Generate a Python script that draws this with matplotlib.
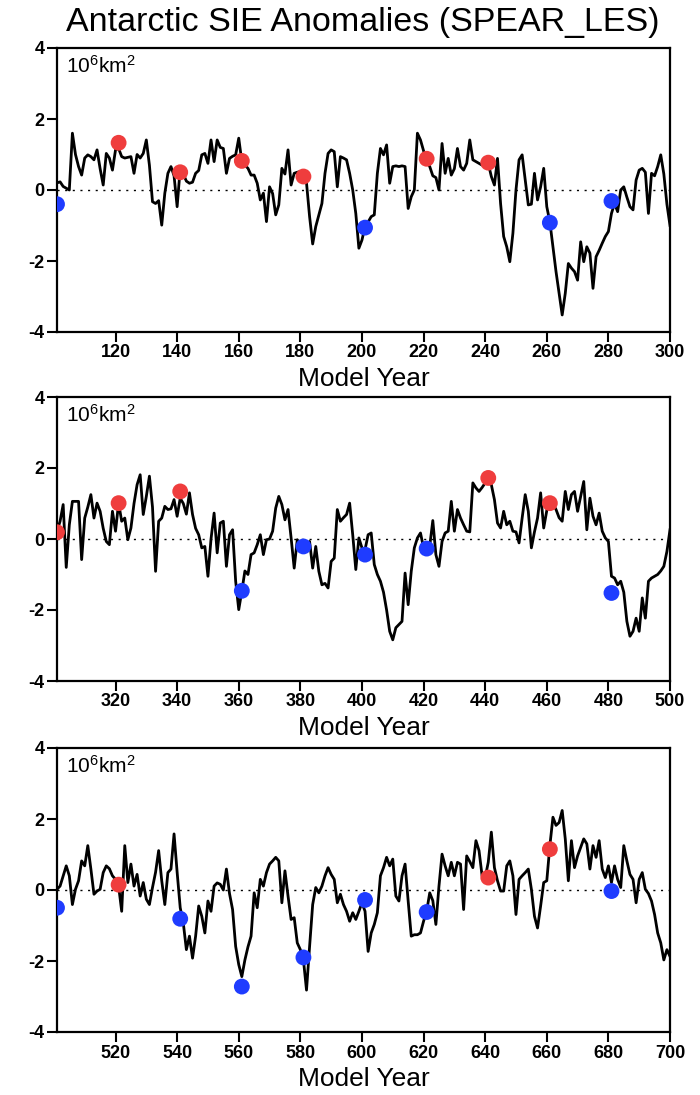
import numpy as np
import matplotlib.pyplot as plt

plt.rcParams['font.family'] = ['Liberation Sans', 'DejaVu Sans']
plt.rcParams['axes.unicode_minus'] = False
plt.rcParams['mathtext.default'] = 'regular'

# annual Antarctic SIE anomalies (10^6 km^2)
years1 = np.arange(101, 301)
sie1 = [0.2, 0.23, 0.1, 0.05, 0.0, 1.6, 1.0, 0.66, 0.42, 0.9,
        0.99, 0.94, 0.85, 1.13, 0.6, 0.14, 1.03, 0.9, 0.56, 1.13,
        1.17, 0.94, 0.9, 0.92, 0.94, 0.47, 1.0, 0.9, 1.03, 1.41,
        0.7, -0.33, -0.38, -0.3, -0.99, -0.09, 0.47, 0.66, 0.4, -0.47,
        0.61, 0.45, 0.25, 0.19, 0.22, 0.47, 0.55, 0.99, 1.03, 0.75,
        1.41, 0.8, 1.41, 1.2, 1.17, 0.47, 0.89, 0.95, 0.99, 1.46,
        0.8, 0.7, 0.61, 0.42, 0.42, 0.19, -0.28, -0.09, -0.89, 0.09,
        -0.1, -0.7, -0.42, 0.61, 0.45, 1.13, 0.14, 0.47, 0.5, 0.52,
        0.45, 0.2, -0.75, -1.52, -1.03, -0.7, -0.38, 0.47, 1.03, 1.13,
        1.08, 0.09, 0.94, 0.9, 0.85, 0.47, 0.0, -0.66, -1.64, -1.41,
        -1.03, -0.9, -0.75, -0.7, 0.47, 1.17, 0.99, 1.27, 0.19, 0.66,
        0.68, 0.66, 0.68, 0.66, -0.52, -0.19, 0.0, 1.6, 1.41, 1.1,
        0.8, 0.66, 0.4, 0.35, 0.0, 1.31, 0.47, 0.89, 0.42, 0.6,
        1.17, 0.66, 0.56, 0.75, 1.41, 0.85, 0.8, 0.75, 0.7, 0.75,
        0.75, 0.38, 0.14, 0.89, -0.38, -1.31, -1.6, -2.02, -1.22, 0.0,
        0.85, 0.99, 0.28, -0.42, -0.4, 0.47, -0.28, 0.09, 0.61, -0.47,
        -0.9, -1.6, -2.3, -2.91, -3.52, -2.91, -2.07, -2.2, -2.3, -2.54,
        -1.46, -2.02, -1.6, -1.78, -2.77, -1.88, -1.7, -1.5, -1.31, -1.17,
        -0.66, -0.38, -0.61, 0.0, 0.09, -0.2, -0.47, -0.56, 0.28, 0.56,
        0.61, 0.5, -0.66, 0.47, 0.4, 0.66, 0.99, 0.45, -0.4, -1.0]

years2 = np.arange(301, 501)
sie2 = [0.22, 0.5, 0.97, -0.8, 0.4, 1.06, 1.06, 1.06, -0.58, 0.59,
        0.9, 1.25, 0.59, 1.01, 0.78, 0.3, -0.07, -0.16, 0.78, 0.22,
        1.01, 0.5, 0.59, -0.02, 0.31, 1.0, 1.53, 1.81, 0.69, 1.2,
        1.77, 0.9, -0.91, 0.5, 0.59, 0.92, 0.83, 0.85, 1.11, 0.64,
        1.15, 1.0, 0.7, 1.3, 0.69, 0.3, 0.12, -0.25, -0.21, -1.05,
        0.0, 0.73, -0.39, 0.45, 0.5, -0.77, 0.12, 0.26, -1.19, -1.99,
        -1.47, -0.9, -1.0, -0.44, -0.39, -0.16, 0.12, -0.44, -0.02, 0.0,
        0.22, 0.87, 1.2, 0.97, 0.54, 0.83, 0.03, -0.82, -0.02, -0.16,
        -0.3, -0.35, -0.07, -0.82, -0.21, -0.91, -1.29, -1.25, -1.38, -0.63,
        -0.54, 0.83, 0.5, 0.6, 0.69, 1.01, 0.12, -0.86, 0.03, -0.25,
        -0.3, 0.12, 0.17, -0.72, -1.0, -1.19, -1.5, -2.0, -2.6, -2.84,
        -2.5, -2.41, -2.32, -0.96, -1.85, -0.91, -0.25, 0.03, 0.17, -0.25,
        -0.15, -0.2, 0.52, -0.44, -0.77, -0.07, 0.17, 0.22, 1.06, 0.22,
        0.83, 0.59, 0.4, 0.22, 0.2, 1.58, 1.44, 1.34, 1.45, 1.58,
        1.6, 1.53, 1.11, 0.45, 0.31, 0.78, 0.4, 0.5, 0.22, 0.2,
        -0.11, 0.59, 1.25, 0.78, -0.25, 0.2, 0.59, 1.3, 0.31, 0.8,
        1.15, 1.0, 0.83, 0.6, 0.5, 1.34, 0.83, 1.25, 1.34, 0.78,
        1.2, 1.62, 0.26, 1.15, 0.64, 0.4, 0.73, 0.22, 0.03, -0.07,
        -1.05, -1.1, -1.29, -1.19, -1.5, -2.32, -2.74, -2.6, -2.23, -2.6,
        -1.66, -2.23, -1.19, -1.1, -1.05, -1.0, -0.9, -0.77, -0.35, 0.26]

years3 = np.arange(501, 701)
sie3 = [0.02, 0.11, 0.4, 0.68, 0.4, -0.41, 0.02, 0.26, 0.82, 0.68,
        1.25, 0.59, -0.12, -0.03, 0.02, 0.49, 0.68, 0.6, 0.4, 0.3,
        0.11, -0.6, 1.25, 0.21, 0.73, 0.11, 0.44, -0.17, 0.21, -0.26,
        -0.41, 0.07, 0.5, 1.11, 0.26, -0.41, 0.49, 0.59, 1.58, 0.5,
        -0.5, -0.93, -1.68, -1.3, -1.92, -1.3, -0.45, -0.74, -1.21, -0.31,
        -0.6, 0.11, 0.2, 0.16, 0.0, 0.59, -0.1, -0.55, -1.59, -2.1,
        -2.44, -1.97, -1.6, -1.3, -0.08, -0.5, 0.3, 0.11, 0.49, 0.73,
        0.82, 0.92, 0.82, -0.36, 0.54, -0.17, -0.83, -0.78, -1.49, -1.68,
        -1.97, -2.82, -1.59, -0.41, 0.07, -0.08, 0.11, 0.4, 0.63, 0.44,
        0.3, -0.36, -0.12, -0.41, -0.6, -0.88, -0.64, -0.83, -0.6, -0.36,
        -0.6, -1.73, -1.21, -0.97, -0.64, 0.4, 0.63, 0.92, 0.68, 0.87,
        -0.17, -0.31, 0.4, 0.73, -0.31, -1.3, -1.26, -1.26, -1.21, -0.88,
        -0.6, -0.08, -0.3, -0.97, 0.11, 1.01, 0.68, 0.4, 0.78, 0.4,
        0.78, 0.73, -0.55, 0.96, 0.8, 0.63, 1.39, 1.11, 0.4, 0.35,
        0.78, 1.63, 0.63, 0.26, -0.03, -0.03, 0.68, 0.82, 0.4, -0.69,
        0.3, 0.4, 0.49, 0.59, 0.02, -0.74, -1.07, -0.45, 0.21, 0.26,
        1.25, 2.05, 1.82, 1.9, 2.24, 1.44, 0.26, 1.39, 0.63, 0.96,
        1.2, 1.44, 1.3, 0.59, 1.25, 0.92, 1.39, 0.59, 0.35, 0.68,
        0.21, 0.68, 0.3, 0.07, 1.25, 0.82, 0.44, 0.3, -0.36, 0.3,
        0.49, 0.02, -0.1, -0.31, -0.69, -1.21, -1.49, -1.97, -1.68, -1.87]

# 20-year start-point values (dots)
dot_years1 = np.arange(101, 300, 20)
dots1 = [-0.4, 1.33, 0.5, 0.82, 0.38, -1.06, 0.88, 0.77, -0.92, -0.31]
dot_years2 = np.arange(301, 500, 20)
dots2 = [0.19, 1.01, 1.34, -1.46, -0.21, -0.44, -0.27, 1.72, 1.01, -1.52]
dot_years3 = np.arange(501, 700, 20)
dots3 = [-0.5, 0.15, -0.81, -2.72, -1.9, -0.28, -0.62, 0.35, 1.15, -0.03]

W, H = 700, 1095
fig = plt.figure(figsize=(W / 100, H / 100), dpi=100)
fig.text(363 / W, 1 - 23 / H, 'Antarctic SIE Anomalies (SPEAR_LES)', ha='center', va='center', fontsize=24.5)

panels = [(years1, sie1, dot_years1, dots1, 48),
          (years2, sie2, dot_years2, dots2, 397),
          (years3, sie3, dot_years3, dots3, 748)]

for yrs, sie, dyrs, dvals, top in panels:
    ax = fig.add_axes([57 / W, 1 - (top + 284) / H, 613 / W, 284 / H])
    ax.plot(yrs, sie, color='black', lw=2.0, zorder=2)
    ax.axhline(0, color='black', lw=1.0, ls=(0, (1.5, 4)), zorder=1)
    dvals = np.array(dvals)
    colors = np.where(dvals > 0, '#EF3D3D', '#1F3CFF')
    ax.scatter(dyrs, dvals, s=130, c=colors, zorder=3, linewidths=0)

    ax.set_xlim(yrs[0], yrs[-1])
    ax.set_ylim(-4, 4)
    ax.set_xticks(np.arange(yrs[0] + 19, yrs[-1] + 1, 20))
    ax.set_yticks([-4, -2, 0, 2, 4])
    ax.tick_params(direction='out', length=7, width=1.5, labelsize=13, pad=2)
    for lab in ax.get_xticklabels() + ax.get_yticklabels():
        lab.set_fontweight('bold')
    for sp in ax.spines.values():
        sp.set_linewidth(1.6)
    ax.set_xlabel('Model Year', fontsize=19, labelpad=4)
    ax.text(0.015, 0.975, r'$10^6km^2$', transform=ax.transAxes, ha='left', va='top', fontsize=15)

fig.savefig('out.png', dpi=100)
